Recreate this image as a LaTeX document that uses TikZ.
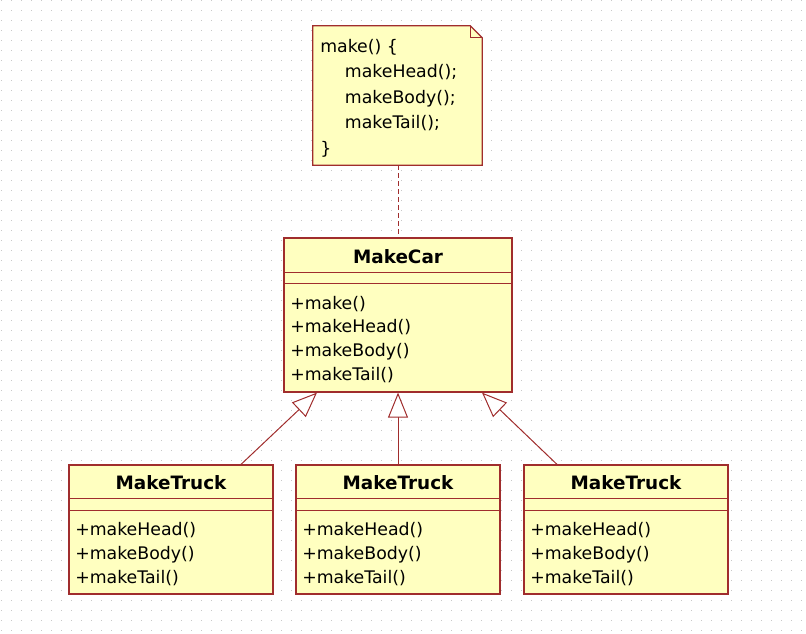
\documentclass[tikz,border=0pt]{standalone}
\usepackage{fontspec}
\setmainfont{DejaVu Sans}
\usetikzlibrary{arrows.meta, positioning}

\definecolor{umlred}{RGB}{160,45,45}
\definecolor{umlfill}{RGB}{255,255,192}
\definecolor{dotgray}{RGB}{200,200,200}

\begin{document}
\begin{tikzpicture}[
    x=0.75pt, y=-0.75pt,
    cls/.style  = {draw=umlred, line width=0.9pt, fill=umlfill, inner sep=0pt},
    ttl/.style  = {font=\fontsize{13.8pt}{17.75pt}\selectfont\bfseries, anchor=base, inner sep=0pt},
    ops/.style  = {font=\fontsize{13pt}{17.75pt}\selectfont, align=left, anchor=base west, inner sep=0pt},
    sep/.style  = {draw=umlred, line width=0.9pt},
    gen/.style  = {draw=umlred, line width=0.75pt,
                   -{Triangle[length=18.75pt, width=15pt, fill=white, line width=0.75pt]}},
    dots/.style = {draw=dotgray, line width=0.75pt, dash pattern=on 0.75pt off 6.75pt},
]
\useasboundingbox (0,0) rectangle (806,633);

% Dotted background grid
\foreach \gy in {0,10,...,630}
    \draw[dots] (1,\gy) -- (806,\gy);

% Note on top (base anchor = last line)
\node[minimum width=126.75pt, minimum height=104.25pt, inner sep=0pt] (note) at (397.5,95.5) {};
\draw[draw=umlred, fill=umlfill, line width=0.9pt]
    (note.north west) -- ([xshift=-9pt]note.north east) -- ([yshift=-9pt]note.north east)
    -- (note.south east) -- (note.south west) -- cycle;
\draw[umlred, line width=0.75pt] ([xshift=-9pt]note.north east) |- ([yshift=-9pt]note.north east);
\node[ops, font=\fontsize{13pt}{19.1pt}\selectfont] (notetext) at (320,154)
    {make() \{\\\hspace*{18.5pt}makeHead();\\\hspace*{18.5pt}makeBody();\\\hspace*{18.5pt}makeTail();\\\}};

% Base class
\node[cls, minimum width=171pt, minimum height=115.5pt] (car) at (398,315) {};
\draw[sep] ([yshift=-26.25pt]car.north west) -- ([yshift=-26.25pt]car.north east);
\draw[sep] ([yshift=-34.5pt]car.north west) -- ([yshift=-34.5pt]car.north east);
\node[ttl] (carname) at (398,263) {MakeCar};
\node[ops] (carops) at (290,380) {+make()\\+makeHead()\\+makeBody()\\+makeTail()};

\draw[umlred, line width=0.75pt, dash pattern=on 3.75pt off 2.25pt] (car.north |- note.south) -- (car.north);

% Subclasses
\node[cls, minimum width=153pt, minimum height=96.75pt] (lt) at (171,529.5) {};
\draw[sep] ([yshift=-25.5pt]lt.north west) -- ([yshift=-25.5pt]lt.north east);
\draw[sep] ([yshift=-34.5pt]lt.north west) -- ([yshift=-34.5pt]lt.north east);
\node[ttl] (ltname) at (171,489) {MakeTruck};
\node[ops] (ltops) at (75,583) {+makeHead()\\+makeBody()\\+makeTail()};

\node[cls, minimum width=153pt, minimum height=96.75pt] (mt) at (398,529.5) {};
\draw[sep] ([yshift=-25.5pt]mt.north west) -- ([yshift=-25.5pt]mt.north east);
\draw[sep] ([yshift=-34.5pt]mt.north west) -- ([yshift=-34.5pt]mt.north east);
\node[ttl] (mtname) at (398,489) {MakeTruck};
\node[ops] (mtops) at (302,583) {+makeHead()\\+makeBody()\\+makeTail()};

\node[cls, minimum width=153pt, minimum height=96.75pt] (rt) at (626,529.5) {};
\draw[sep] ([yshift=-25.5pt]rt.north west) -- ([yshift=-25.5pt]rt.north east);
\draw[sep] ([yshift=-34.5pt]rt.north west) -- ([yshift=-34.5pt]rt.north east);
\node[ttl] (rtname) at (626,489) {MakeTruck};
\node[ops] (rtops) at (530,583) {+makeHead()\\+makeBody()\\+makeTail()};

% Generalisation arrows
\draw[gen] ([xshift=52.5pt]lt.north) -- ([xshift=-60.75pt]car.south);
\draw[gen] (mt.north) -- (car.south);
\draw[gen] ([xshift=-51.75pt]rt.north) -- ([xshift=63pt]car.south);

\end{tikzpicture}
\end{document}
